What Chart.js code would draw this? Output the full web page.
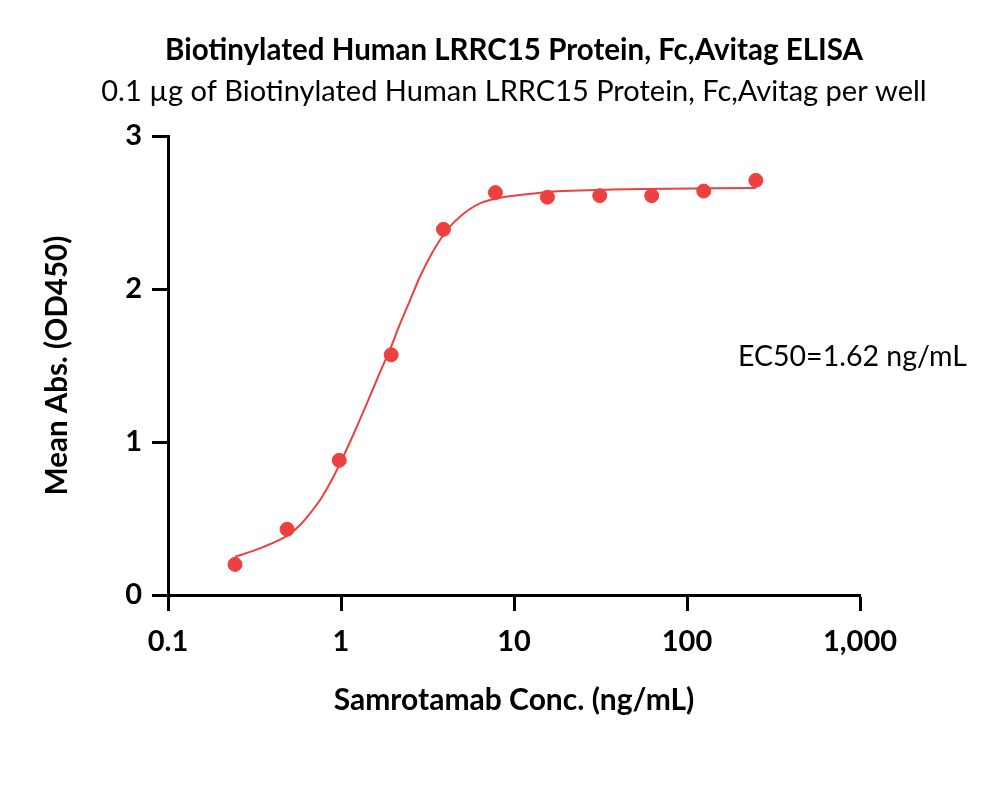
<!DOCTYPE html>
<html>
<head>
<meta charset="utf-8">
<script src="https://cdn.jsdelivr.net/npm/chart.js@4/dist/chart.umd.min.js"></script>
<style>
  html, body { margin: 0; padding: 0; background: #fff; }
  #wrap { width: 1000px; height: 791px; position: relative; }
</style>
</head>
<body>
<div id="wrap"><canvas id="elisa_chart" width="1000" height="791"></canvas></div>
<script>
// measured points
var conc = [0.244, 0.488, 0.977, 1.95, 3.91, 7.81, 15.6, 31.3, 62.5, 125, 250];
var od450 = [0.20, 0.43, 0.88, 1.57, 2.39, 2.63, 2.60, 2.61, 2.61, 2.64, 2.71];

// fitted curve
var fitConc = [0.244, 0.34, 0.485, 0.58, 0.662, 0.757, 0.863, 0.986, 1.127, 1.29, 1.47, 1.68, 1.92, 2.19, 2.51,
    2.86, 3.27, 3.73, 4.26, 4.87, 5.57, 6.36, 7.27, 8.30, 10.8, 16.1, 24, 37.3, 80, 250];
var fitOd = [0.25, 0.305, 0.385, 0.458, 0.534, 0.621, 0.730, 0.858, 1.0, 1.15, 1.30, 1.455, 1.605, 1.77, 1.928,
    2.08, 2.211, 2.32, 2.408, 2.473, 2.523, 2.560, 2.582, 2.597, 2.614, 2.636, 2.643, 2.65, 2.656, 2.66];

var xTicks = [0.1, 1, 10, 100, 1000];
var xTickLabels = ['0.1', '1', '10', '100', '1,000'];
var yTicks = [0, 1, 2, 3];

var chartTitle = 'Biotinylated Human LRRC15 Protein, Fc,Avitag ELISA';
var chartSubtitle = '0.1 \u00b5g of Biotinylated Human LRRC15 Protein, Fc,Avitag per well';
var ec50Text = 'EC50=1.62 ng/mL';

var red = 'rgb(238, 64, 64)';
var fontFam = 'Lato, "Open Sans", sans-serif';

var textPlugin = {
    id: 'texts',
    afterDraw(chart) {
        var ctx = chart.ctx;
        ctx.save();
        ctx.fillStyle = '#000';
        ctx.textAlign = 'center';
        ctx.textBaseline = 'middle';
        ctx.font = 'bold 29.5px ' + fontFam;
        ctx.fillText(chartTitle, 514, 50);
        ctx.font = '29px ' + fontFam;
        ctx.fillText(chartSubtitle, 514, 92);
        ctx.textAlign = 'left';
        ctx.font = '28.5px ' + fontFam;
        ctx.fillText(ec50Text, 738, 357);
        ctx.restore();
    }
};

new Chart('elisa_chart', {
    type: 'scatter',
    data: {
        datasets: [{
            data: conc.map((c, i) => ({x: c, y: od450[i]})),
            backgroundColor: red,
            borderColor: red,
            pointRadius: 7,
            pointHoverRadius: 7,
            order: 1
        }, {
            type: 'line',
            data: fitConc.map((c, i) => ({x: c, y: fitOd[i]})),
            borderColor: red,
            borderWidth: 2,
            pointRadius: 0,
            fill: false,
            tension: 0.3,
            order: 2
        }]
    },
    options: {
        responsive: false,
        animation: false,
        layout: {padding: {top: 136, right: 140, bottom: 0, left: 0}},
        plugins: {legend: {display: false}, tooltip: {enabled: false}},
        scales: {
            x: {
                type: 'logarithmic',
                min: 0.1,
                max: 1000,
                afterBuildTicks: scale => { scale.ticks = xTicks.map(v => ({value: v})); },
                afterFit: scale => { scale.height = 196; },
                ticks: {
                    callback: (v) => xTickLabels[xTicks.indexOf(v)] || '',
                    color: '#000',
                    font: {family: fontFam, size: 29, weight: 'bold'},
                    padding: 13,
                    maxRotation: 0,
                    autoSkip: false
                },
                grid: {drawOnChartArea: false, drawTicks: true, tickLength: 16, tickWidth: 3, tickColor: '#000'},
                border: {display: true, width: 3, color: '#000'},
                title: {
                    display: true,
                    text: 'Samrotamab Conc. (ng/mL)',
                    color: '#000',
                    font: {family: fontFam, size: 30, weight: 'bold'},
                    padding: {top: 0, bottom: 73}
                }
            },
            y: {
                min: 0,
                max: 3,
                afterBuildTicks: scale => { scale.ticks = yTicks.map(v => ({value: v})); },
                afterFit: scale => { scale.width = 168; },
                ticks: {
                    color: '#000',
                    font: {family: fontFam, size: 29, weight: 'bold'},
                    padding: 10
                },
                grid: {drawOnChartArea: false, drawTicks: true, tickLength: 16, tickWidth: 3, tickColor: '#000'},
                border: {display: true, width: 3, color: '#000'},
                title: {
                    display: true,
                    text: 'Mean Abs. (OD450)',
                    color: '#000',
                    font: {family: fontFam, size: 29.5, weight: 'bold'},
                    padding: {top: 40, bottom: 0}
                }
            }
        }
    },
    plugins: [textPlugin]
});
</script>
</body>
</html>
